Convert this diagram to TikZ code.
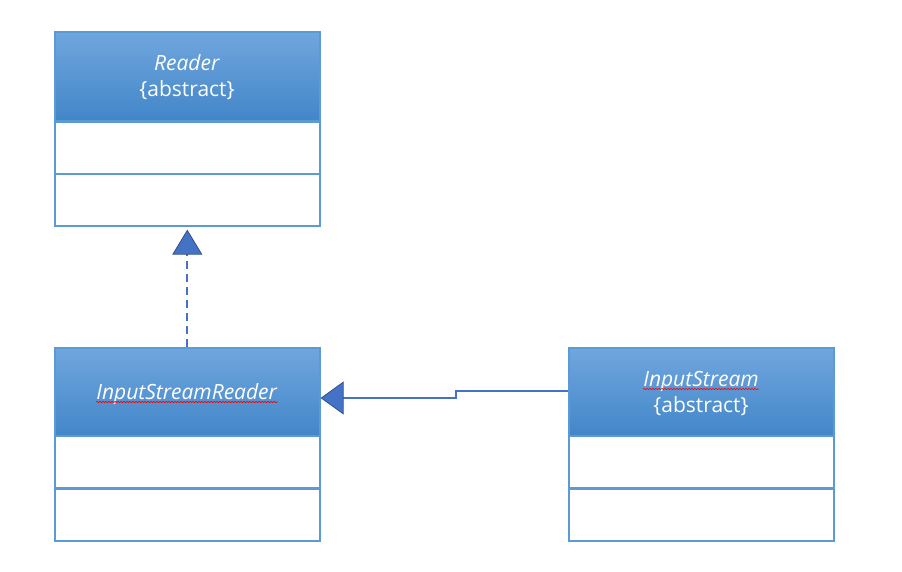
\documentclass[tikz,border=0pt]{standalone}
\usepackage{fontspec}
\setmainfont{Open Sans}
\usetikzlibrary{arrows.meta,decorations.pathmorphing}
\definecolor{hdtop}{HTML}{70A6DE}
\definecolor{hdbot}{HTML}{4286C8}
\definecolor{bord}{HTML}{5B9BD5}
\definecolor{arr}{HTML}{4472C4}
\definecolor{arrdark}{HTML}{2F528F}
\tikzset{
  header/.style={draw=bord, line width=1.6pt, top color=hdtop, bottom color=hdbot,
    minimum width=265pt, minimum height=89pt, inner sep=0pt, anchor=north west},
  comp/.style={draw=bord, line width=1.6pt, fill=white, minimum width=265pt,
    minimum height=52pt, inner sep=0pt, anchor=north west},
  label/.style={text=white, font=\fontsize{21}{27}\selectfont, inner sep=0pt, anchor=base},
  spell/.style={draw=red, line width=0.6pt, decorate,
    decoration={snake, amplitude=0.7pt, segment length=3pt}},
  realize/.style={draw=arr, line width=2pt, dash pattern=on 8pt off 5pt,
    -{Triangle[width=30pt,length=25pt,fill=arr,color=arrdark,line width=0.8pt]}},
  inherit/.style={draw=arr, line width=2pt,
    -{Triangle[width=33pt,length=23pt,fill=arr,color=arrdark,line width=0.8pt]}}
}
\begin{document}
\begin{tikzpicture}[x=1pt,y=-1pt]
\useasboundingbox (0,0) rectangle (902,572);
% Reader
\node[header] (rh) at (54,31) {};
\node[label] (rt1) at (187,71) {\textit{Reader}};
\node[label] (rt2) at (187,97) {\{abstract\}};
\node[comp] (ra) at (54,121) {};
\node[comp] (rm) at (54,173) {};
% InputStreamReader
\node[header] (ih) at (54,347) {};
\node[label] (it) at (187,399) {\textit{InputStreamReader}};
\node[comp] (ia) at (54,435) {};
\node[comp] (im) at (54,488) {};
% InputStream
\node[header] (sh) at (568,347) {};
\node[label] (st1) at (701,386) {\textit{InputStream}};
\node[label] (st2) at (701,412) {\{abstract\}};
\node[comp] (sa) at (568,435) {};
\node[comp] (sm) at (568,488) {};
% spell-check underlines
\draw[spell] ([yshift=-3pt]it.base west) -- ([yshift=-3pt]it.base east);
\draw[spell] ([yshift=-3pt]st1.base west) -- ([yshift=-3pt]st1.base east);
% connectors
\draw[realize] (ih.north) -- ([yshift=-3pt]rm.south);
\coordinate (k1) at (456,391);
\coordinate (k2) at (456,398);
\draw[inherit] (sh.west |- k1) -- (k1) -- (k2) -- (ih.east |- k2);
\end{tikzpicture}
\end{document}
